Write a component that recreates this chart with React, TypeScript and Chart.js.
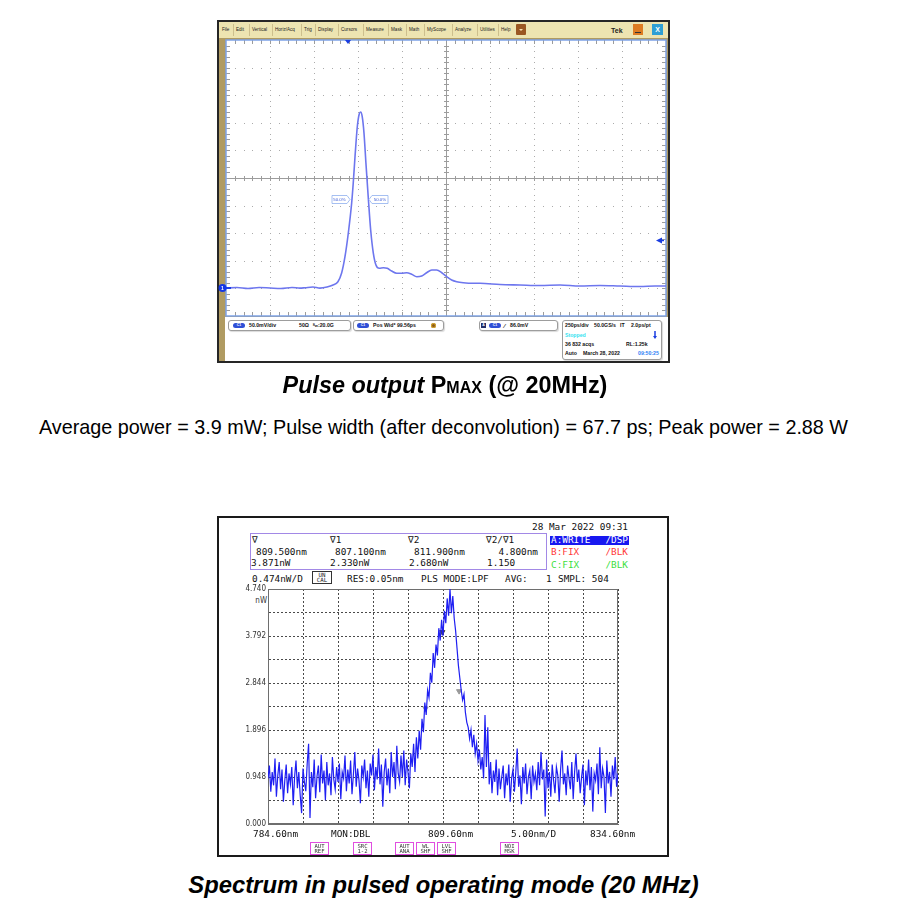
import React, { useEffect, useRef } from "react";
import { Chart, registerables } from "chart.js";

Chart.register(...registerables);

// ---------------- Oscilloscope (pulse) data ----------------
// time in ps (250 ps/div), amplitude in mV above channel ground (50 mV/div)
const SCOPE_TIME_PS = [0, 62, 125, 188, 250, 312, 375, 420, 449, 494, 534, 574, 608, 636, 657, 676, 695, 714, 723, 733, 746, 757, 765, 774, 784, 795, 808, 822, 837, 852, 871, 894, 916, 941, 970, 998, 1027, 1055, 1084, 1112, 1140, 1169, 1197, 1226, 1254, 1282, 1311, 1348, 1405, 1443, 1557, 1670, 1784, 1898, 2011, 2125, 2239, 2352, 2438, 2500];
const SCOPE_MV = [0.5, 1.6, -0.2, 1.6, 0.7, -0.2, 1.6, 0.5, 1.2, 2.5, 0.5, 2.5, 6.2, 12.1, 27.9, 57.4, 100.4, 154.7, 190.9, 238.6, 292.9, 316, 319.6, 311, 281.5, 227.2, 166.1, 105.8, 64.1, 42.4, 36.4, 37.5, 36.4, 31.5, 27.4, 27.4, 28.4, 25.5, 21.2, 22.5, 28.4, 33.3, 33.3, 28.4, 21.2, 15.2, 12.1, 10.3, 9.2, 9.2, 7.1, 6.2, 5.3, 6.2, 4.3, 5.3, 4.3, 3.4, 4.3, 4.3];
const SCOPE_X_DIVS = [0, 250, 500, 750, 1000, 1250, 1500, 1750, 2000, 2250, 2500];
const SCOPE_Y_DIVS = [-50, 0, 50, 100, 150, 200, 250, 300, 350, 400, 450];

// ---------------- Spectrum data ----------------
const SPEC_START_NM = 784.6;
const SPEC_STEP_NM = 0.2;
const SPEC_NW = [
  0.92, 1.18, 0.65, 1.05, 0.78, 1.32, 0.55, 0.98, 1.25, 0.70,
  1.10, 0.45, 0.88, 1.20, 0.62, 1.02, 0.80, 1.15, 0.38, 0.95,
  1.28, 0.72, 1.05, 0.58, 0.22, 1.12, 0.85, 0.66, 1.22, 1.62,
  0.12, 1.05, 0.74, 1.30, 0.52, 0.96, 1.18, 0.64, 1.40, 0.82,
  1.08, 0.48, 1.25, 0.78, 1.02, 0.58, 1.35, 0.90, 0.70, 1.15,
  0.85, 1.22, 0.50, 1.05, 0.92, 1.38, 0.66, 1.10, 0.82, 1.28,
  0.60, 1.00, 1.45, 0.75, 1.12, 0.88, 0.42, 1.18, 0.95, 1.30,
  0.72, 1.08, 0.55, 1.22, 0.98, 1.40, 0.68, 1.15, 0.90, 1.52,
  0.80, 1.20, 0.35, 1.05, 1.32, 0.78, 1.12, 0.62, 1.45, 0.95,
  1.25, 0.70, 1.58, 1.02, 0.85, 1.38, 0.95, 1.48, 0.78, 1.30,
  1.05, 0.72, 1.42, 1.15, 1.62, 1.05, 1.75, 1.32, 1.88, 1.50,
  2.12, 1.85, 2.45, 2.20, 2.70, 2.55, 3.05, 2.85, 3.45, 3.15,
  3.62, 3.40, 3.95, 3.70, 4.12, 3.80, 4.30, 4.05, 4.55, 4.20,
  4.74, 4.25, 4.60, 4.15, 3.90, 3.55, 3.20, 2.95, 2.70, 2.50,
  2.62, 2.25, 2.05, 1.95, 1.72, 1.90, 1.55, 1.80, 1.42, 1.62,
  1.28, 1.50, 1.10, 1.35, 0.92, 2.20, 1.15, 1.95, 0.80, 1.25,
  0.62, 1.08, 0.85, 1.30, 0.58, 1.12, 0.70, 0.95, 1.18, 0.52,
  1.02, 0.78, 1.20, 0.45, 0.92, 1.10, 0.65, 1.05, 1.52, 0.75,
  0.98, 0.40, 1.15, 0.82, 1.22, 0.60, 0.95, 1.08, 0.50, 1.18,
  0.85, 1.02, 0.68, 1.25, 0.78, 1.45, 0.90, 1.10, 0.15, 1.30,
  0.72, 1.05, 0.55, 1.20, 0.88, 0.62, 1.15, 0.98, 0.45, 1.10,
  1.48, 0.80, 1.02, 0.58, 1.18, 0.92, 0.70, 1.25, 0.50, 1.05,
  1.42, 0.85, 1.10, 0.62, 0.95, 1.20, 0.38, 1.08, 0.78, 1.30,
  0.68, 1.15, 0.25, 1.02, 0.88, 1.22, 0.60, 1.55, 0.72, 1.12,
  0.95, 0.22, 1.28, 0.82, 1.05, 0.55, 1.18, 0.90, 1.35, 0.75,
  1.02,
];
const SPEC_X_TICKS = [784.6, 789.6, 794.6, 799.6, 804.6, 809.6, 814.6, 819.6, 824.6, 829.6, 834.6];
const SPEC_Y_TICKS = [0, 0.474, 0.948, 1.422, 1.896, 2.37, 2.844, 3.318, 3.792, 4.266, 4.74];
const SPEC_Y_LABELS = ["0.000", "", "0.948", "", "1.896", "", "2.844", "", "3.792", "", "4.740"];
const MARKER_NM = [809.5, 807.1, 811.9];
const MARKER_NW = [3.871, 2.33, 2.68];

const MONO = "'DejaVu Sans Mono', 'Liberation Mono', monospace";
const SANS = "'Liberation Sans', Arial, sans-serif";

function T(props: any) {
  const { x, y, s, c = "#111", f = MONO, w = 400, a = "l", children, st } = props;
  const lh = Math.ceil(s * 1.25);
  const tx = a === "c" ? "translateX(-50%)" : a === "r" ? "translateX(-100%)" : "none";
  return (
    <div
      style={{
        position: "absolute", left: x, top: y - lh / 2, fontSize: s, lineHeight: lh + "px",
        fontFamily: f, fontWeight: w, color: c, whiteSpace: "nowrap", transform: tx, ...st,
      }}
    >
      {children}
    </div>
  );
}

const scopeGrid = {
  id: "scopeGrid",
  beforeDatasetsDraw(chart: any) {
    const { ctx, chartArea: a, scales } = chart;
    const xs = SCOPE_X_DIVS.map((v) => scales.x.getPixelForValue(v));
    const ys = SCOPE_Y_DIVS.map((v) => scales.y.getPixelForValue(v));
    const dx = (xs[1] - xs[0]) / 5;
    const dy = (ys[0] - ys[1]) / 5;
    ctx.save();
    ctx.fillStyle = "#ffffff";
    ctx.fillRect(a.left, a.top, a.right - a.left, a.bottom - a.top);
    ctx.fillStyle = "#ababab";
    for (let i = 1; i < xs.length - 1; i++) {
      if (i === 5) continue;
      for (let yy = a.top + dy; yy < a.bottom - 1; yy += dy) ctx.fillRect(Math.round(xs[i]), Math.round(yy), 1, 1);
    }
    for (let j = 1; j < ys.length - 1; j++) {
      if (j === 5) continue;
      for (let xx = a.left + dx; xx < a.right - 1; xx += dx) ctx.fillRect(Math.round(xx), Math.round(ys[j]), 1, 1);
    }
    // centre crosshair with minor ticks
    const cx = Math.round(xs[5]) + 0.5;
    const cy = Math.round(ys[5]) + 0.5;
    ctx.strokeStyle = "#9c9c9c";
    ctx.lineWidth = 1;
    ctx.beginPath();
    ctx.moveTo(a.left, cy); ctx.lineTo(a.right, cy);
    ctx.moveTo(cx, a.top); ctx.lineTo(cx, a.bottom);
    for (let xx = a.left + dx; xx < a.right - 1; xx += dx) {
      const px = Math.round(xx) + 0.5;
      ctx.moveTo(px, cy - 2.5); ctx.lineTo(px, cy + 2.5);
      ctx.moveTo(px, a.top); ctx.lineTo(px, a.top + 4);
      ctx.moveTo(px, a.bottom); ctx.lineTo(px, a.bottom - 4);
    }
    for (let yy = a.top + dy; yy < a.bottom - 1; yy += dy) {
      const py = Math.round(yy) + 0.5;
      ctx.moveTo(cx - 2.5, py); ctx.lineTo(cx + 2.5, py);
      ctx.moveTo(a.left, py); ctx.lineTo(a.left + 4, py);
      ctx.moveTo(a.right, py); ctx.lineTo(a.right - 4, py);
    }
    ctx.stroke();
    ctx.strokeStyle = "#7ea3e8";
    ctx.lineWidth = 1.5;
    ctx.strokeRect(a.left, a.top, a.right - a.left, a.bottom - a.top);
    ctx.restore();
  },
};

const specFrame = {
  id: "specFrame",
  beforeDatasetsDraw(chart: any) {
    const { ctx, chartArea: a } = chart;
    ctx.save();
    ctx.strokeStyle = "#6e6e6e";
    ctx.lineWidth = 1;
    ctx.strokeRect(a.left + 0.5, a.top + 0.5, a.right - a.left - 1, a.bottom - a.top - 1);
    ctx.restore();
  },
};

function ScopeChart() {
  const ref = useRef<HTMLCanvasElement>(null);
  useEffect(() => {
    const chart = new Chart(ref.current as HTMLCanvasElement, {
      type: "line",
      data: {
        datasets: [
          {
            data: SCOPE_TIME_PS.map((t, i) => ({ x: t, y: SCOPE_MV[i] })),
            borderColor: "#6d76ee",
            borderWidth: 1.6,
            pointRadius: 0,
            cubicInterpolationMode: "monotone",
            fill: false,
          },
        ],
      },
      options: {
        animation: false,
        responsive: false,
        events: [],
        layout: { padding: 4 },
        plugins: { legend: { display: false }, tooltip: { enabled: false } },
        scales: {
          x: { type: "linear", min: 0, max: 2500, display: false },
          y: { type: "linear", min: -50, max: 450, display: false },
        },
      },
      plugins: [scopeGrid],
    } as any);
    return () => chart.destroy();
  }, []);
  return (
    <canvas ref={ref} width={448} height={284}
      style={{ position: "absolute", left: 222, top: 36, width: 448, height: 284 }} />
  );
}

function SpectrumChart() {
  const ref = useRef<HTMLCanvasElement>(null);
  useEffect(() => {
    const chart = new Chart(ref.current as HTMLCanvasElement, {
      type: "line",
      data: {
        datasets: [
          {
            data: SPEC_NW.map((v, i) => ({ x: SPEC_START_NM + i * SPEC_STEP_NM, y: v })),
            borderColor: "#1f1ff2",
            borderWidth: 1.2,
            pointRadius: 0,
            tension: 0,
            fill: false,
          },
          {
            data: MARKER_NM.map((w, i) => ({ x: w, y: MARKER_NW[i] })),
            showLine: false,
            pointStyle: "triangle",
            rotation: 180,
            pointRadius: 3,
            pointBackgroundColor: ["#444444", "#9a9a9a", "#9a9a9a"],
            pointBorderColor: ["#444444", "#9a9a9a", "#9a9a9a"],
          },
        ],
      },
      options: {
        animation: false,
        responsive: false,
        events: [],
        layout: { padding: { top: 10, right: 10, bottom: 10, left: 0 } },
        plugins: { legend: { display: false }, tooltip: { enabled: false } },
        scales: {
          x: {
            type: "linear", min: 784.6, max: 834.6,
            afterBuildTicks: (s: any) => { s.ticks = SPEC_X_TICKS.map((v) => ({ value: v })); },
            afterFit: (s: any) => { s.height = 0; },
            ticks: { display: false },
            grid: { color: "#4a4a4a", drawTicks: false, lineWidth: 1 },
            border: { display: true, color: "#6e6e6e", dash: [2, 2] },
          },
          y: {
            type: "linear", min: 0, max: 4.74,
            afterBuildTicks: (s: any) => { s.ticks = SPEC_Y_TICKS.map((v) => ({ value: v })); },
            afterFit: (s: any) => { s.width = 48; },
            ticks: {
              autoSkip: false, padding: 2, color: "#333",
              font: { family: "'Liberation Sans Narrow', 'DejaVu Sans Condensed', 'Liberation Sans', sans-serif", size: 8 },
              callback: (_v: any, i: number) => SPEC_Y_LABELS[i],
            },
            grid: { color: "#4a4a4a", drawTicks: false, lineWidth: 1 },
            border: { display: true, color: "#6e6e6e", dash: [2, 2] },
          },
        },
      },
      plugins: [specFrame],
    } as any);
    return () => chart.destroy();
  }, []);
  return (
    <canvas ref={ref} width={408} height={255}
      style={{ position: "absolute", left: 220, top: 579, width: 408, height: 255 }} />
  );
}

const MENU = [
  ["File", 222], ["Edit", 236], ["Vertical", 252], ["Horiz/Acq", 275], ["Trig", 304], ["Display", 318],
  ["Cursors", 341], ["Measure", 366], ["Mask", 391], ["Math", 409], ["MyScope", 427], ["Analyze", 455],
  ["Utilities", 480], ["Help", 501],
];

function Pill({ x, y, w = 12 }: any) {
  return (
    <div style={{
      position: "absolute", left: x, top: y - 2.5, width: w, height: 5, borderRadius: 3,
      background: "#2f4fd6", color: "#fff", fontSize: 3.5, lineHeight: "5px", textAlign: "center",
      fontFamily: SANS, fontWeight: 700,
    }}>C1</div>
  );
}

function Box({ x, y, w, h }: any) {
  return (
    <div style={{
      position: "absolute", left: x, top: y, width: w, height: h, boxSizing: "border-box",
      border: "1px solid #9d9d9d", borderRadius: 3, background: "#fff",
      boxShadow: "1px 1px 1px rgba(0,0,0,0.15)",
    }} />
  );
}

function PinkKey({ x, a, b }: any) {
  return (
    <div style={{
      position: "absolute", left: x, top: 842, width: 19, height: 13, boxSizing: "border-box",
      border: "1px solid #e04ee0", fontFamily: MONO, fontSize: 5.6, lineHeight: "5.6px",
      color: "#333", textAlign: "center", paddingTop: 0.5,
    }}>
      <div>{a}</div>
      <div>{b}</div>
    </div>
  );
}

export default function App() {
  const S = 5.2; // status font
  return (
    <div style={{ position: "absolute", left: 0, top: 0, width: 900, height: 905, background: "#fff", overflow: "hidden" }}>
      {/* ================= Oscilloscope frame ================= */}
      <div style={{ position: "absolute", left: 217, top: 20, width: 453, height: 343, boxSizing: "border-box", border: "2px solid #262626", background: "#b09b62" }} />
      <div style={{ position: "absolute", left: 219, top: 22, width: 449, height: 16, background: "#ede4b1" }} />
      {MENU.map(([t, x]: any, i) => (
        <React.Fragment key={t}>
          <T x={x} y={30} s={4.6} f={SANS} c="#222">{t}</T>
          {i > 0 && <div style={{ position: "absolute", left: x - 3, top: 24, width: 1, height: 12, background: "#cdbf8d" }} />}
        </React.Fragment>
      ))}
      <div style={{ position: "absolute", left: 498, top: 24, width: 1, height: 12, background: "#cdbf8d" }} />
      <div style={{ position: "absolute", left: 516, top: 24, width: 10, height: 11, background: "#9a5722", borderRadius: 1 }} />
      <div style={{ position: "absolute", left: 519, top: 29, width: 0, height: 0, borderLeft: "2px solid transparent", borderRight: "2px solid transparent", borderTop: "2px solid #f5e0b0" }} />
      <T x={611} y={30} s={7} f={SANS} w={700} c="#222">Tek</T>
      <div style={{ position: "absolute", left: 633, top: 24, width: 10, height: 11, background: "#dd7b22" }} />
      <div style={{ position: "absolute", left: 635, top: 32, width: 6, height: 1, background: "#333" }} />
      <div style={{ position: "absolute", left: 652, top: 24, width: 11, height: 11, background: "#2e9fd4", color: "#fff", fontFamily: SANS, fontWeight: 700, fontSize: 7, lineHeight: "11px", textAlign: "center" }}>X</div>

      {/* status area */}
      <div style={{ position: "absolute", left: 225, top: 317, width: 443, height: 44, background: "#ffffff" }} />
      <Box x={228} y={320} w={123} h={11} />
      <Box x={353} y={320} w={91} h={11} />
      <Box x={479} y={320} w={79} h={11} />
      <Box x={562} y={320} w={100} h={40} />
      <Pill x={233} y={325.5} />
      <T x={249} y={325.5} s={S} f={SANS} w={700}>50.0mV/div</T>
      <T x={299} y={325.5} s={S} f={SANS} w={700}>50Ω</T>
      <T x={313} y={325.5} s={S} f={SANS} w={700}><span style={{ fontSize: 4 }}>ᴮw</span>:20.0G</T>
      <Pill x={357} y={325.5} />
      <T x={373} y={325.5} s={S} f={SANS} w={700}>Pos Wid* 99.56ps</T>
      <div style={{ position: "absolute", left: 431, top: 323, width: 5, height: 5, borderRadius: 3, background: "#8a5a1a", boxShadow: "inset 0 0 0 1px #d8a830" }} />
      <div style={{ position: "absolute", left: 481, top: 323, width: 5, height: 5, background: "#24306a", color: "#fff", fontSize: 3.5, lineHeight: "5px", textAlign: "center", fontFamily: SANS, fontWeight: 700 }}>A</div>
      <Pill x={489} y={325.5} />
      <T x={504} y={325.5} s={S + 1} f={SANS} w={700}>⁄</T>
      <T x={510} y={325.5} s={S} f={SANS} w={700}>86.0mV</T>
      <T x={565} y={325.5} s={S} f={SANS} w={700}>250ps/div</T>
      <T x={594} y={325.5} s={S} f={SANS} w={700}>50.0GS/s</T>
      <T x={620} y={325.5} s={S} f={SANS} w={700}>IT</T>
      <T x={631} y={325.5} s={S} f={SANS} w={700}>2.0ps/pt</T>
      <T x={565} y={335} s={S} f={SANS} w={700} c="#35e2f0">Stopped</T>
      <T x={565} y={344} s={S} f={SANS} w={700}>36 832 acqs</T>
      <T x={626} y={344} s={S} f={SANS} w={700}>RL:1.25k</T>
      <T x={565} y={353.3} s={S} f={SANS} w={700}>Auto</T>
      <T x={583} y={353.3} s={S} f={SANS} w={700}>March 28, 2022</T>
      <T x={638} y={353.3} s={S} f={SANS} w={700} c="#2f7ff5">09:50:25</T>

      <ScopeChart />

      <svg width={900} height={400} style={{ position: "absolute", left: 0, top: 0, pointerEvents: "none" }}>
        {/* trigger position */}
        <polygon points="345,40 351,40 348,44" fill="#1a3de0" />
        {/* trigger level */}
        <polygon points="656,240.5 662,237.5 662,243.5" fill="#1a3de0" />
        <line x1={661} y1={240.5} x2={664} y2={240.5} stroke="#1a3de0" strokeWidth={1.5} />
        {/* stop arrow */}
        <line x1={655} y1={331} x2={655} y2={337} stroke="#1a3de0" strokeWidth={1.5} />
        <polygon points="653,336 657,336 655,339" fill="#1a3de0" />
        {/* ground marker */}
        <circle cx={222.5} cy={288} r={4} fill="#1437e6" />
        <text x={222.5} y={290} fontSize={5} fill="#fff" textAnchor="middle" fontFamily={SANS} fontWeight={700}>1</text>
        <line x1={226} y1={288} x2={231} y2={288} stroke="#1437e6" strokeWidth={1.8} />
        {/* 50% labels */}
        <path d="M332,195.5 H347 L350,199.5 L347,203.5 H332 Z" fill="#fff" stroke="#8fb0ef" strokeWidth={0.8} />
        <text x={339.5} y={201.2} fontSize={4.4} fill="#3b5bd6" textAnchor="middle" fontFamily={SANS}>50.0%</text>
        <path d="M372,195.5 H388 V203.5 H372 L369,199.5 Z" fill="#fff" stroke="#8fb0ef" strokeWidth={0.8} />
        <text x={380} y={201.2} fontSize={4.4} fill="#3b5bd6" textAnchor="middle" fontFamily={SANS}>50.0%</text>
      </svg>

      {/* ================= Captions ================= */}
      <div style={{ position: "absolute", left: 0, width: 890, top: 371, textAlign: "center", fontFamily: SANS, fontWeight: 700, fontSize: 23.4, lineHeight: "28px", color: "#000" }}>
        <i>Pulse output</i> P<span style={{ fontSize: 16 }}>MAX</span> (@ 20MHz)
      </div>
      <div style={{ position: "absolute", left: 0, width: 887, top: 415, textAlign: "center", fontFamily: SANS, fontSize: 19.8, lineHeight: "24px", color: "#000" }}>
        Average power = 3.9 mW; Pulse width (after deconvolution) = 67.7 ps; Peak power = 2.88 W
      </div>

      {/* ================= Spectrum frame ================= */}
      <div style={{ position: "absolute", left: 217, top: 516, width: 452, height: 341, boxSizing: "border-box", border: "2px solid #1a1a1a", background: "#fff" }} />
      <T x={628} y={527} s={9.4} a="r">28 Mar 2022 09:31</T>
      <div style={{ position: "absolute", left: 250, top: 533, width: 297, height: 37, boxSizing: "border-box", border: "1.5px solid #a288e6" }} />
      <T x={252} y={540} s={9.4}>∇</T>
      <T x={330} y={540} s={9.4}>∇1</T>
      <T x={408} y={540} s={9.4}>∇2</T>
      <T x={486} y={540} s={9.4}>∇2/∇1</T>
      <T x={256} y={551.5} s={9.4}>809.500nm</T>
      <T x={335} y={551.5} s={9.4}>807.100nm</T>
      <T x={414} y={551.5} s={9.4}>811.900nm</T>
      <T x={538} y={551.5} s={9.4} a="r">4.800nm</T>
      <T x={251} y={563} s={9.4}>3.871nW</T>
      <T x={330} y={563} s={9.4}>2.330nW</T>
      <T x={409} y={563} s={9.4}>2.680nW</T>
      <T x={487} y={563} s={9.4}>1.150</T>
      <div style={{ position: "absolute", left: 550, top: 535.5, width: 79, height: 9, background: "#1818f0" }} />
      <T x={551} y={540} s={9.4} c="#fff">A:WRITE</T>
      <T x={628} y={540} s={9.4} c="#fff" a="r">/DSP</T>
      <T x={551} y={552} s={9.4} c="#ff3a3a">B:FIX</T>
      <T x={628} y={552} s={9.4} c="#ff3a3a" a="r">/BLK</T>
      <T x={551} y={564.5} s={9.4} c="#3ee03e">C:FIX</T>
      <T x={628} y={564.5} s={9.4} c="#3ee03e" a="r">/BLK</T>
      <T x={252} y={578.5} s={9.4}>0.474nW/D</T>
      <div style={{ position: "absolute", left: 312, top: 571, width: 20, height: 13, boxSizing: "border-box", border: "1px solid #333", fontFamily: MONO, fontSize: 5.8, lineHeight: "5.6px", textAlign: "center", color: "#222", paddingTop: 0.5 }}>
        <div>UN</div>
        <div>CAL</div>
      </div>
      <T x={347} y={578.5} s={9.4}>RES:0.05nm</T>
      <T x={421} y={578.5} s={9.4}>PLS MODE:LPF</T>
      <T x={505} y={578.5} s={9.4}>AVG:</T>
      <T x={546} y={578.5} s={9.4}>1</T>
      <T x={558} y={578.5} s={9.4}>SMPL: 504</T>
      <T x={267} y={601} s={8} a="r" f={"'Liberation Sans Narrow', 'DejaVu Sans Condensed', 'Liberation Sans', sans-serif"} c="#333">nW</T>

      <SpectrumChart />

      <T x={253} y={834} s={9.4}>784.60nm</T>
      <T x={331} y={834} s={9.4}>MON:DBL</T>
      <T x={428} y={834} s={9.4}>809.60nm</T>
      <T x={511} y={834} s={9.4}>5.00nm/D</T>
      <T x={590} y={834} s={9.4}>834.60nm</T>
      <PinkKey x={310} a="AUT" b="REF" />
      <PinkKey x={353} a="SRC" b="1-2" />
      <PinkKey x={395} a="AUT" b="ANA" />
      <PinkKey x={416} a="WL" b="SHF" />
      <PinkKey x={437} a="LVL" b="SHF" />
      <PinkKey x={500} a="NOI" b="MSK" />

      <div style={{ position: "absolute", left: 0, width: 887, top: 871, textAlign: "center", fontFamily: SANS, fontWeight: 700, fontStyle: "italic", fontSize: 23.8, lineHeight: "28px", color: "#000" }}>
        Spectrum in pulsed operating mode (20 MHz)
      </div>
    </div>
  );
}
